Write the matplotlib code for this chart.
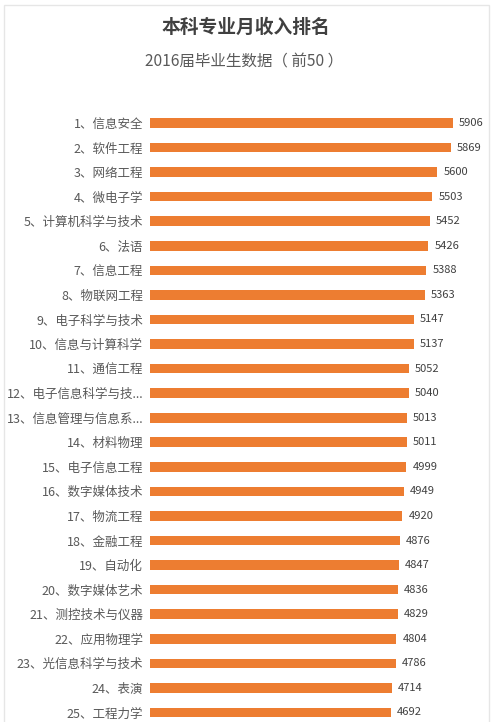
import matplotlib
matplotlib.use("Agg")
import matplotlib.pyplot as plt
from matplotlib.patches import Rectangle

plt.rcParams['font.family'] = ['Noto Sans CJK SC', 'DejaVu Sans']

# data
majors = ["1、信息安全", "2、软件工程", "3、网络工程", "4、微电子学",
          "5、计算机科学与技术", "6、法语", "7、信息工程", "8、物联网工程",
          "9、电子科学与技术", "10、信息与计算科学", "11、通信工程",
          "12、电子信息科学与技...", "13、信息管理与信息系...", "14、材料物理",
          "15、电子信息工程", "16、数字媒体技术", "17、物流工程", "18、金融工程",
          "19、自动化", "20、数字媒体艺术", "21、测控技术与仪器", "22、应用物理学",
          "23、光信息科学与技术", "24、表演", "25、工程力学"]
salary = [5906, 5869, 5600, 5503, 5452, 5426, 5388, 5363, 5147, 5137,
          5052, 5040, 5013, 5011, 4999, 4949, 4920, 4876, 4847, 4836,
          4829, 4804, 4786, 4714, 4692]

W, H = 494, 722
fig = plt.figure(figsize=(W/100, H/100), dpi=100)
fig.patch.set_facecolor("white")

# light frame around the card
fig.patches.append(Rectangle((4/W, -0.01), 485/W, 1 - 5/H + 0.01,
                             transform=fig.transFigure, fill=False,
                             edgecolor="#e6e6e6", linewidth=1.0))

fig.text(246/W, 1 - 27/H, "本科专业月收入排名", ha="center", va="center",
         fontsize=13.5, fontweight="bold", color="#404040")
fig.text(244/W, 1 - 62/H, "2016届毕业生数据（ 前50 ）", ha="center", va="center",
         fontsize=11.2, color="#595959")

# axes placed so bar rows line up with the picture
step = 24.56
top_px = 123 - 0.5*step
bot_px = 722
n_rows = (bot_px - top_px) / step
ax = fig.add_axes([150/W, 0, 320/W, (bot_px - top_px)/H])
ax.set_facecolor("none")

pos = list(range(len(salary)))
ax.barh(pos, salary, height=0.39, color="#ED7D31")
ax.set_xlim(0, 320/0.0513)
ax.set_ylim(-0.5 + n_rows, -0.5)

for p, v in zip(pos, salary):
    ax.text(v + 6/0.0513, p, str(v), va="center", ha="left",
            fontsize=8, color="#404040")

ax.set_yticks(pos)
ax.set_yticklabels(majors, fontsize=9, color="#595959")
ax.tick_params(axis="y", length=0, pad=5)
ax.set_xticks([])
for s in ax.spines.values():
    s.set_visible(False)

fig.savefig("out.png", dpi=100)
